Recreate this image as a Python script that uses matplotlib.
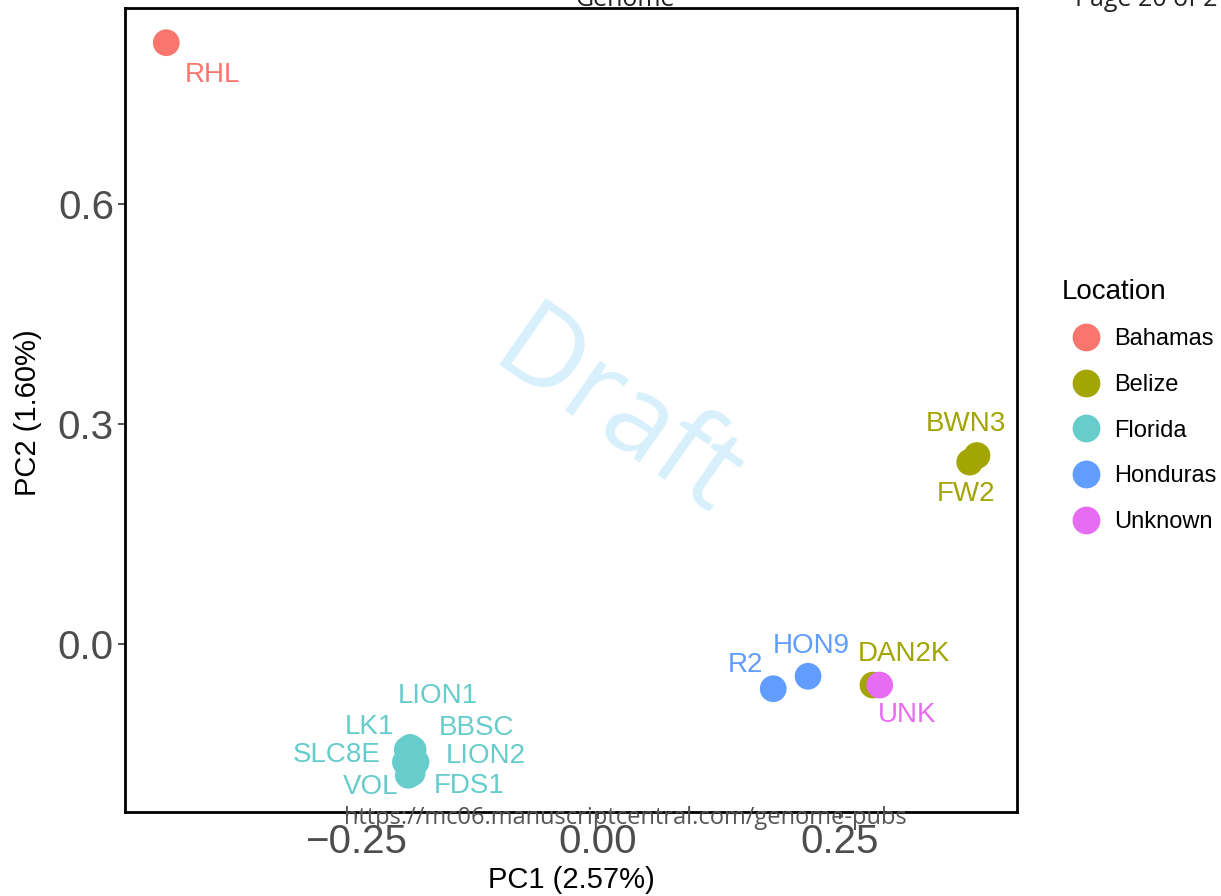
import matplotlib
matplotlib.use("Agg")
import matplotlib.pyplot as plt
from matplotlib.lines import Line2D

plt.rcParams['font.family'] = ['Liberation Sans', 'DejaVu Sans']

# ---- data ----
samples = ["RHL", "FW2", "BWN3", "DAN2K", "LION1", "LK1", "BBSC", "SLC8E",
           "LION2", "VOL", "FDS1", "HON9", "R2", "UNK"]
location = ["Bahamas", "Belize", "Belize", "Belize", "Florida", "Florida",
            "Florida", "Florida", "Florida", "Florida", "Florida",
            "Honduras", "Honduras", "Unknown"]
pc1 = [-0.446, 0.384, 0.3915, 0.284, -0.194, -0.197, -0.191, -0.199,
       -0.188, -0.196, -0.192, 0.217, 0.181, 0.291]
pc2 = [0.820, 0.248, 0.257, -0.056, -0.141, -0.144, -0.144, -0.161,
       -0.161, -0.179, -0.176, -0.044, -0.061, -0.056]
locations = ["Bahamas", "Belize", "Florida", "Honduras", "Unknown"]
colors = ["#F8766D", "#A3A500", "#66CCCC", "#619CFF", "#E76BF3"]
x_ticks = [-0.25, 0.0, 0.25]
y_ticks = [0.0, 0.3, 0.6]
x_title = "PC1 (2.57%)"
y_title = "PC2 (1.60%)"

# label offsets (pixels: right, down) -- styling of repelled labels
label_offsets = {
    "RHL": (46, 32), "BWN3": (-11, -32), "FW2": (-4, 32),
    "DAN2K": (31, -31), "UNK": (27, 30), "HON9": (3, -30), "R2": (-28, -24),
    "LION1": (28, -51), "LK1": (-38, -23), "BBSC": (63, -22),
    "SLC8E": (-69, -7), "LION2": (70, -6), "VOL": (-38, 12), "FDS1": (57, 13),
}

cmap = dict(zip(locations, colors))

fig = plt.figure(figsize=(12.21, 8.96), dpi=100)
ax = fig.add_axes([125/1221, 84/896, (1017-125)/1221, (812-8)/896])

x0_px, xs = 598, 968.0
y0_px, ys = 644, 733.3
ax.set_xlim((125 - x0_px)/xs, (1017 - x0_px)/xs)
ax.set_ylim((y0_px - 812)/ys, (y0_px - 8)/ys)

# watermark
ax.text(0.55, 0.49, "Draft", transform=ax.transAxes, rotation=-35,
        fontsize=82, color="#d8f0fc", ha="center", va="center",
        family=["Open Sans", "DejaVu Sans"], zorder=0)

for s, loc, x, y in zip(samples, location, pc1, pc2):
    ax.scatter([x], [y], s=370, color=cmap[loc], edgecolors='none', zorder=3)
for s, loc, x, y in zip(samples, location, pc1, pc2):
    dx, dy = label_offsets[s]
    ax.annotate(s, (x, y), xytext=(dx*0.72, -dy*0.72), textcoords='offset points',
                ha='center', va='center', fontsize=20, color=cmap[loc], zorder=4)

ax.set_xticks(x_ticks)
ax.set_xticklabels(["\u22120.25", "0.00", "0.25"])
ax.set_yticks(y_ticks)
ax.set_yticklabels(["0.0", "0.3", "0.6"])
ax.tick_params(axis='both', labelsize=29, labelcolor="#4D4D4D", color="#333333",
               length=5, width=1.2, direction='out', pad=3)
for sp in ax.spines.values():
    sp.set_linewidth(2.0)
    sp.set_color("black")

fig.text(571/1221, 1 - 880/896, x_title, ha='center', va='center', fontsize=21)
fig.text(28/1221, 1 - 413/896, y_title, ha='center', va='center', fontsize=21,
         rotation=90)

# legend
handles = [Line2D([], [], marker='o', linestyle='none', markersize=20,
                  markerfacecolor=c, markeredgecolor='none') for c in colors]
leg = fig.legend(handles, locations, title="Location", loc='upper left',
                 bbox_to_anchor=(1057/1221, 1 - 274/896), frameon=False,
                 fontsize=17, title_fontsize=20, labelspacing=1.0,
                 handletextpad=0.12, handlelength=2.09, borderaxespad=0,
                 borderpad=0.2)
leg._legend_box.align = "left"
leg._legend_box.sep = 17

# page furniture
fig.text(625/1221, 1.0, "Genome", ha='center', va='center', fontsize=18,
         color="#222222", family=["Open Sans", "DejaVu Sans"])
fig.text(1075/1221, 1.0, "Page 20 of 27", ha='left', va='center', fontsize=18,
         color="#222222", family=["Open Sans", "DejaVu Sans"])
fig.text(625/1221, 1 - 818/896, "https://mc06.manuscriptcentral.com/genome-pubs",
         ha='center', va='center', fontsize=17, color="#555555",
         family=["Open Sans", "DejaVu Sans"], zorder=10)

fig.savefig("out.png", dpi=100)
